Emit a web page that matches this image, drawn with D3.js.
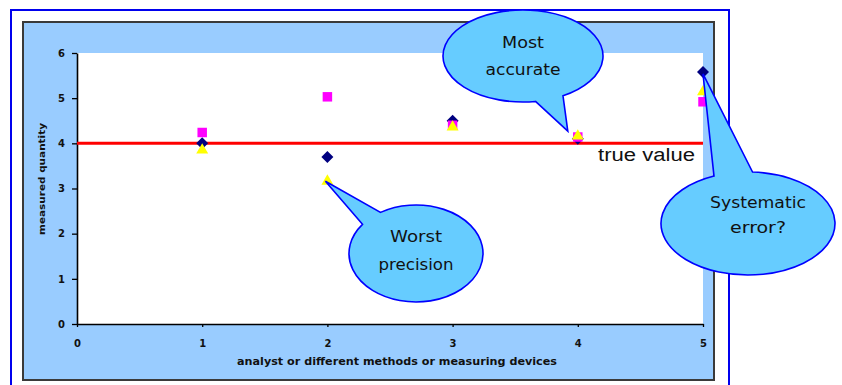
<!DOCTYPE html>
<html>
<head>
<meta charset="utf-8">
<script src="https://cdn.jsdelivr.net/npm/d3@7/dist/d3.min.js"></script>
<style>
  html, body { margin: 0; padding: 0; background: #ffffff; }
  svg { display: block; }
</style>
</head>
<body>
<script>
// ---- data ----
const categories = [1, 2, 3, 4, 5];
const seriesDiamond = [4.00, 3.70, 4.50, 4.10, 5.58];
const seriesSquare = [4.24, 5.03, 4.40, 4.14, 4.92];
const seriesTriangle = [3.85, 3.16, 4.36, 4.16, 5.14];
const trueValue = 4;
const xTicks = [0, 1, 2, 3, 4, 5];
const yTicks = [0, 1, 2, 3, 4, 5, 6];
const xTitle = "analyst or different methods or measuring devices";
const yTitle = "measured quantity";
const trueLabel = "true value";
const callouts = [
  { lines: ["Most", "accurate"], widths: [42, 75], target: [4, 4.16], off: [-10, -5] },
  { lines: ["Worst", "precision"], widths: [52, 75], target: [2, 3.16], off: [-2, 0] },
  { lines: ["Systematic", "error?"], widths: [96, 56], target: [5, 5.58], off: [0, 2] }
];

const W = 842, H = 385;
const svg = d3.select("body").append("svg").attr("width", W).attr("height", H);

// outer frame
svg.append("rect").attr("x", 11).attr("y", 10).attr("width", 718).attr("height", 400)
  .attr("fill", "#ffffff").attr("stroke", "#0000ee").attr("stroke-width", 2);

// chart area
svg.append("rect").attr("x", 23).attr("y", 22).attr("width", 691).attr("height", 358)
  .attr("fill", "#99ccff").attr("stroke", "#3a3a3a").attr("stroke-width", 2);

const x = d3.scaleLinear().domain([0, 5]).range([77, 703]);
const y = d3.scaleLinear().domain([0, 6]).range([324, 53]);

// plot area
svg.append("rect").attr("x", x(0)).attr("y", y(6))
  .attr("width", x(5) - x(0)).attr("height", y(0) - y(6)).attr("fill", "#ffffff");

const tickFont = "'DejaVu Sans', Verdana, sans-serif";

const gy = svg.append("g").attr("transform", `translate(${x(0)},0)`)
  .call(d3.axisLeft(y).tickValues(yTicks).tickSize(5).tickSizeOuter(0).tickPadding(7).tickFormat(d3.format("d")));
const gx = svg.append("g").attr("transform", `translate(0,${y(0)})`)
  .call(d3.axisBottom(x).tickValues(xTicks).tickSize(3).tickSizeOuter(0).tickPadding(13).tickFormat(d3.format("d")));
[gx, gy].forEach(g => {
  g.select(".domain").attr("stroke", "#000").attr("stroke-width", 1.6);
  g.selectAll(".tick line").attr("stroke", "#000").attr("stroke-width", 1.3);
  g.selectAll(".tick text").attr("fill", "#111").style("font-family", tickFont)
    .style("font-size", "10px").style("font-weight", "bold");
});

// axis titles
svg.append("text").attr("x", 397).attr("y", 365).attr("text-anchor", "middle")
  .attr("textLength", 320).attr("lengthAdjust", "spacingAndGlyphs")
  .style("font-family", tickFont).style("font-size", "10px").style("font-weight", "bold")
  .attr("fill", "#111").text(xTitle);
svg.append("text").attr("transform", "translate(45,179) rotate(-90)").attr("text-anchor", "middle")
  .attr("textLength", 112).attr("lengthAdjust", "spacingAndGlyphs")
  .style("font-family", tickFont).style("font-size", "9px").style("font-weight", "bold")
  .attr("fill", "#111").text(yTitle);

// true value line
svg.append("line").attr("x1", x(0)).attr("x2", x(5)).attr("y1", y(trueValue)).attr("y2", y(trueValue))
  .attr("stroke", "#ff0000").attr("stroke-width", 3);
svg.append("text").attr("x", x(5) - 8).attr("y", y(trueValue) + 18).attr("text-anchor", "end")
  .attr("textLength", 97).attr("lengthAdjust", "spacingAndGlyphs")
  .style("font-family", "'Liberation Sans', Arial, sans-serif").style("font-size", "18px")
  .attr("fill", "#111").text(trueLabel);

// markers
const diamond = d3.symbol().type(d3.symbolSquare).size(72);
const square = d3.symbol().type(d3.symbolSquare).size(90);
const tri = d3.symbol().type(d3.symbolTriangle).size(62);
svg.append("g").selectAll("path").data(categories).join("path")
  .attr("d", diamond)
  .attr("transform", (c, i) => `translate(${x(c)},${y(seriesDiamond[i])}) rotate(45)`)
  .attr("fill", "#000080");
svg.append("g").selectAll("path").data(categories).join("path")
  .attr("d", square)
  .attr("transform", (c, i) => `translate(${x(c)},${y(seriesSquare[i])})`)
  .attr("fill", "#ff00ff");
svg.append("g").selectAll("path").data(categories).join("path")
  .attr("d", tri)
  .attr("transform", (c, i) => `translate(${x(c)},${y(seriesTriangle[i])})`)
  .attr("fill", "#ffff00");

// callouts
const geom = [
  { cx: 523, cy: 56, rx: 80, ry: 46, a: 60, b: 81, ty: [48, 75] },
  { cx: 416, cy: 253.5, rx: 67, ry: 48.5, a: -143, b: -122, ty: [242, 270] },
  { cx: 748, cy: 223.5, rx: 87, ry: 51.5, a: -113, b: -87, ty: [208, 233] }
];
const rad = d => d * Math.PI / 180;
callouts.forEach((c, i) => {
  const g = geom[i];
  const P = t => [g.cx + g.rx * Math.cos(rad(t)), g.cy + g.ry * Math.sin(rad(t))];
  const tip = [x(c.target[0]) + c.off[0], y(c.target[1]) + c.off[1]];
  const pa = P(g.a), pb = P(g.b);
  const d = `M${pa[0]},${pa[1]} L${tip[0]},${tip[1]} L${pb[0]},${pb[1]} A${g.rx},${g.ry} 0 1 1 ${pa[0]},${pa[1]} Z`;
  svg.append("path").attr("d", d).attr("fill", "#66ccff").attr("stroke", "#0000ff").attr("stroke-width", 1.6);
  c.lines.forEach((ln, j) => {
    svg.append("text").attr("x", g.cx + (i === 2 ? 10 : 0)).attr("y", g.ty[j]).attr("text-anchor", "middle")
      .attr("textLength", c.widths[j]).attr("lengthAdjust", "spacingAndGlyphs")
      .style("font-family", "'DejaVu Sans', sans-serif").style("font-size", "16px")
      .attr("fill", "#111").text(ln);
  });
});
</script>
</body>
</html>
